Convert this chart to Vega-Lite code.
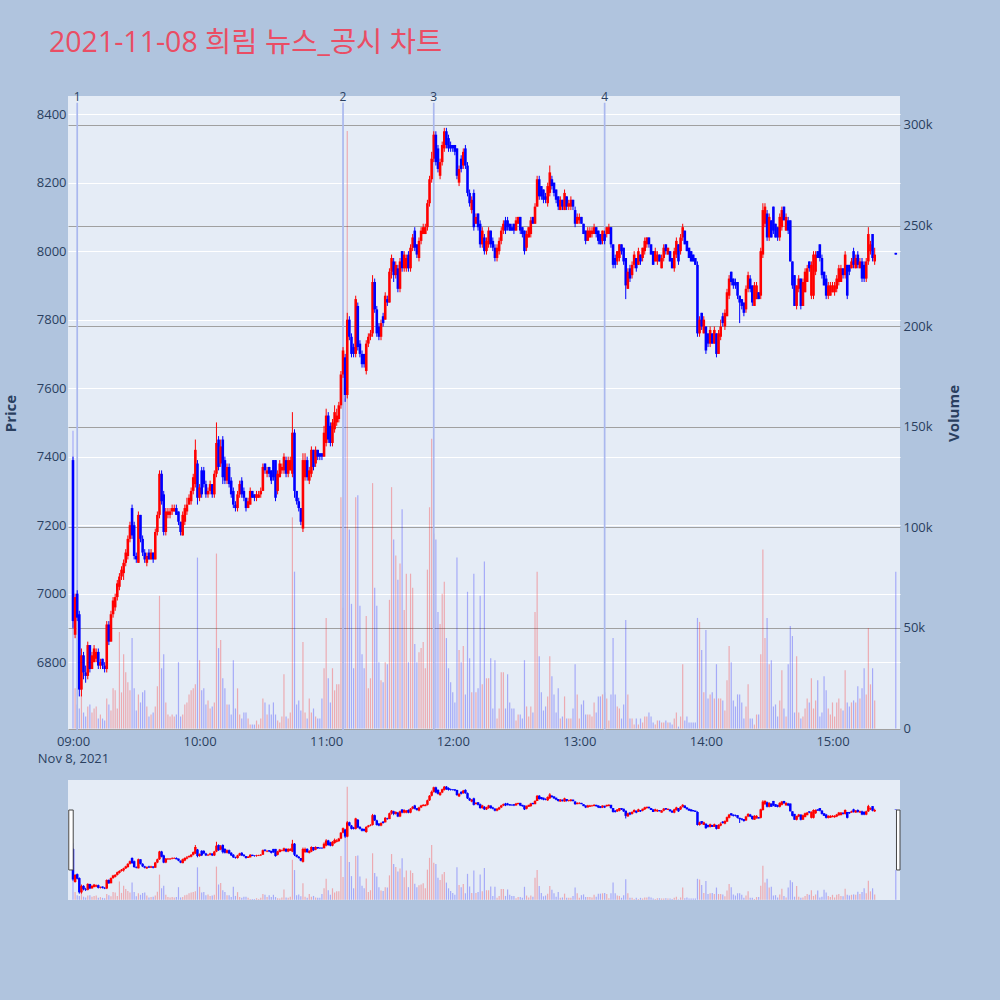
{
"$schema":"https://vega.github.io/schema/vega-lite/v6.json",
"background":"#b0c4de",
"padding":{"left":3,"top":28,"right":40,"bottom":101},
"config":{"view":{"fill":"#e5ecf6","stroke":null},"font":"Open Sans"},
"title":{"text":"2021-11-08 희림 뉴스_공시 차트","anchor":"start","frame":"bounds","color":"#ea4d64","fontSize":28.5,"font":"Open Sans, Noto Sans CJK KR","fontWeight":"normal","dx":46,"offset":34},
"data":{"values":"t,o,h,l,c,v,ev\n0900,7390,7400,6900,6920,148\n0901,6880,7000,6870,6990,20\n0902,7000,7010,6920,6930,12,1\n0903,6940,6950,6700,6720,10\n0904,6720,6840,6700,6820,17\n0905,6820,6830,6750,6770,8\n0906,6770,6790,6740,6760,6\n0907,6760,6860,6750,6850,11\n0908,6850,6850,6770,6780,12\n0909,6780,6830,6780,6820,8\n0910,6800,6850,6800,6840,10\n0911,6810,6840,6800,6830,11\n0912,6830,6840,6780,6790,5\n0913,6790,6810,6780,6800,7\n0914,6810,6810,6780,6790,5\n0915,6790,6800,6770,6780,4\n0916,6780,6920,6770,6910,15\n0917,6910,6920,6850,6860,12\n0918,6860,6950,6860,6940,9\n0919,6940,6990,6930,6980,20\n0920,6960,7000,6950,6990,19\n0921,6990,7040,6980,7030,10\n0922,7020,7060,7010,7050,48\n0923,7050,7080,7040,7070,18\n0924,7060,7100,7040,7090,37\n0925,7090,7130,7080,7120,28\n0926,7110,7170,7100,7160,23\n0927,7160,7210,7150,7200,19\n0928,7250,7260,7160,7170,45\n0929,7200,7210,7100,7110,20\n0930,7110,7120,7090,7100,9\n0931,7090,7240,7090,7230,17\n0932,7230,7230,7150,7160,13\n0933,7160,7170,7110,7120,18\n0934,7120,7130,7090,7100,19\n0935,7090,7120,7080,7110,11\n0936,7120,7130,7100,7100,6\n0937,7100,7130,7100,7120,7\n0938,7120,7120,7090,7100,8\n0939,7100,7190,7100,7180,11\n0940,7180,7240,7170,7230,21\n0941,7230,7360,7220,7350,66\n0942,7350,7360,7260,7270,30\n0943,7290,7300,7170,7180,37\n0944,7180,7250,7170,7240,13\n0945,7230,7250,7220,7240,7\n0946,7230,7250,7220,7240,6\n0947,7240,7260,7230,7250,7\n0948,7240,7260,7240,7250,6\n0949,7250,7260,7230,7230,7\n0950,7240,7240,7200,7210,33\n0951,7210,7210,7170,7180,6\n0952,7170,7240,7170,7230,7\n0953,7210,7260,7200,7250,12\n0954,7240,7280,7230,7260,13\n0955,7260,7290,7260,7280,17\n0956,7270,7310,7260,7300,19\n0957,7300,7350,7290,7340,20\n0958,7320,7450,7310,7420,22\n0959,7380,7390,7260,7280,85\n1000,7280,7320,7270,7310,34\n1001,7360,7370,7280,7290,19\n1002,7360,7370,7310,7320,20\n1003,7320,7330,7280,7290,12\n1004,7290,7310,7280,7300,14\n1005,7300,7330,7290,7320,10\n1006,7320,7320,7280,7290,11\n1007,7290,7360,7280,7350,13\n1008,7350,7500,7340,7440,87\n1009,7450,7460,7360,7370,40\n1010,7380,7450,7370,7430,44\n1011,7450,7460,7320,7340,25\n1012,7390,7400,7320,7330,20\n1013,7330,7380,7320,7370,12\n1014,7370,7380,7310,7320,12\n1015,7330,7340,7280,7290,7\n1016,7300,7310,7250,7260,34\n1017,7260,7270,7240,7250,10\n1018,7250,7300,7240,7290,20\n1019,7290,7330,7280,7320,7\n1020,7330,7340,7280,7290,5\n1021,7300,7310,7270,7280,8\n1022,7280,7280,7240,7250,8\n1023,7250,7280,7250,7270,5\n1024,7260,7310,7260,7300,2\n1025,7300,7300,7280,7280,2\n1026,7290,7290,7270,7280,2\n1027,7280,7300,7270,7290,4\n1028,7280,7300,7280,7290,2\n1029,7290,7310,7280,7300,5\n1030,7300,7380,7300,7370,15\n1031,7380,7380,7350,7360,13\n1032,7350,7370,7340,7360,7\n1033,7370,7370,7340,7350,12\n1034,7360,7360,7320,7330,7\n1035,7390,7390,7330,7340,13\n1036,7390,7390,7270,7280,7\n1037,7300,7360,7290,7350,4\n1038,7340,7390,7340,7380,3\n1039,7360,7380,7350,7370,6\n1040,7360,7410,7350,7400,27\n1041,7390,7400,7340,7350,6\n1042,7350,7400,7340,7390,5\n1043,7360,7400,7360,7390,8\n1044,7350,7530,7340,7470,105\n1045,7470,7480,7280,7300,78\n1046,7300,7300,7260,7270,12\n1047,7270,7280,7240,7250,14\n1048,7250,7250,7200,7210,9\n1049,7190,7410,7180,7390,43\n1050,7340,7410,7330,7390,8\n1051,7390,7400,7330,7340,5\n1052,7330,7370,7320,7360,15\n1053,7350,7430,7340,7420,8\n1054,7420,7420,7360,7370,10\n1055,7380,7430,7370,7420,6\n1056,7420,7420,7390,7400,5\n1057,7410,7410,7390,7400,5\n1058,7410,7410,7390,7400,15\n1059,7400,7490,7400,7470,30\n1100,7440,7540,7430,7520,55\n1101,7520,7530,7440,7450,25\n1102,7490,7500,7430,7440,13\n1103,7440,7510,7430,7500,30\n1104,7480,7550,7470,7530,19\n1105,7500,7540,7490,7520,22\n1106,7510,7560,7500,7550,22\n1107,7550,7650,7540,7640,115\n1108,7640,7720,7630,7710,60,2\n1109,7690,7700,7560,7580,164\n1110,7580,7820,7570,7800,297\n1111,7800,7810,7740,7750,99\n1112,7750,7760,7690,7700,62\n1113,7720,7730,7690,7700,30\n1114,7700,7870,7690,7860,115\n1115,7840,7850,7710,7720,116\n1116,7730,7740,7690,7700,61\n1117,7700,7710,7660,7670,37\n1118,7700,7700,7660,7670,30\n1119,7650,7740,7640,7730,56\n1120,7730,7760,7720,7750,20\n1121,7750,7770,7740,7760,25\n1122,7760,7930,7750,7910,122\n1123,7910,7920,7820,7830,70\n1124,7830,7840,7750,7760,61\n1125,7780,7790,7740,7750,33\n1126,7750,7800,7740,7790,24\n1127,7810,7820,7780,7790,23\n1128,7800,7880,7800,7870,33\n1129,7860,7870,7840,7850,32\n1130,7850,7950,7850,7940,64\n1131,7940,7990,7920,7980,120\n1132,7970,7980,7910,7930,94\n1133,7930,7970,7920,7960,86\n1134,7950,7960,7880,7890,74\n1135,7890,7980,7880,7970,82\n1136,8000,8000,7940,7950,109\n1137,7950,8000,7940,7990,59\n1138,7950,7990,7940,7980,77\n1139,7990,8000,7940,7950,33\n1140,7950,8020,7940,8010,77\n1141,8010,8050,8000,8040,70\n1142,8060,8070,8000,8010,42\n1143,8020,8020,7980,7990,33\n1144,7980,8040,7970,8030,38\n1145,8030,8070,8020,8060,40\n1146,8050,8080,8050,8070,43\n1147,8050,8080,8050,8070,30\n1148,8070,8150,8060,8140,79\n1149,8140,8220,8130,8210,110\n1150,8210,8290,8200,8270,144\n1151,8270,8350,8260,8340,97,3\n1152,8340,8350,8250,8260,94\n1153,8300,8310,8230,8240,58\n1154,8220,8270,8210,8260,52\n1155,8260,8320,8250,8310,67\n1156,8300,8360,8290,8350,73\n1157,8350,8360,8300,8310,45\n1158,8330,8340,8290,8300,30\n1159,8310,8320,8290,8300,23\n1200,8310,8310,8290,8300,18\n1201,8310,8310,8280,8290,13\n1202,8300,8300,8210,8220,85\n1203,8200,8250,8190,8240,39\n1204,8270,8280,8230,8240,33\n1205,8250,8300,8240,8290,41\n1206,8300,8310,8240,8250,17\n1207,8250,8260,8160,8170,68\n1208,8170,8180,8130,8140,35\n1209,8120,8160,8110,8150,18\n1210,8170,8180,8060,8070,77\n1211,8080,8110,8080,8100,18\n1212,8110,8110,8060,8070,20\n1213,8080,8090,8010,8020,66\n1214,8020,8070,8010,8060,22\n1215,8040,8050,7990,8000,83\n1216,8000,8040,7990,8030,25\n1217,8020,8070,8010,8060,25\n1218,8060,8060,8010,8020,35\n1219,8030,8040,8000,8010,10\n1220,8010,8020,7970,7980,34\n1221,7980,8020,7970,8010,5\n1222,8000,8040,7990,8030,10\n1223,8030,8070,8020,8060,28\n1224,8060,8090,8050,8080,28\n1225,8090,8100,8050,8060,10\n1226,8090,8100,8060,8070,27\n1227,8080,8080,8060,8060,13\n1228,8070,8080,8060,8060,10\n1229,8080,8080,8050,8060,10\n1230,8060,8100,8060,8090,4\n1231,8080,8100,8080,8100,7\n1232,8100,8100,8050,8060,7\n1233,8070,8070,8040,8050,5\n1234,8060,8060,7990,8000,34\n1235,8010,8060,8000,8050,11\n1236,8040,8070,8040,8070,6\n1237,8050,8100,8040,8090,11\n1238,8100,8100,8080,8080,8\n1239,8080,8140,8080,8130,58\n1240,8130,8220,8130,8210,78\n1241,8210,8220,8150,8160,36\n1242,8190,8190,8150,8160,18\n1243,8180,8180,8140,8150,9\n1244,8160,8170,8140,8150,11\n1245,8140,8200,8130,8190,16\n1246,8170,8250,8160,8230,36\n1247,8210,8220,8180,8190,26\n1248,8200,8200,8160,8170,17\n1249,8180,8180,8140,8150,8\n1250,8160,8160,8120,8130,20\n1251,8120,8160,8120,8150,5\n1252,8150,8150,8120,8130,6\n1253,8120,8180,8120,8170,16\n1254,8160,8160,8120,8130,5\n1255,8130,8150,8120,8140,5\n1256,8130,8160,8120,8150,5\n1257,8150,8150,8120,8130,10\n1258,8120,8130,8070,8080,32\n1259,8080,8110,8080,8100,17\n1300,8090,8110,8080,8100,5\n1301,8100,8100,8080,8080,12\n1302,8080,8080,8050,8050,14\n1303,8060,8060,8020,8030,7\n1304,8030,8070,8030,8060,7\n1305,8040,8070,8040,8060,7\n1306,8050,8070,8040,8060,6\n1307,8050,8080,8050,8070,13\n1308,8070,8070,8040,8050,8\n1309,8060,8060,8020,8030,16\n1310,8050,8050,8020,8020,16\n1311,8030,8060,8020,8060,17\n1312,8050,8060,8020,8030,18,4\n1313,8050,8070,8040,8070,15\n1314,8050,8080,8050,8070,4\n1315,8070,8070,8010,8020,17\n1316,8020,8020,7950,7960,45\n1317,7980,7990,7950,7960,17\n1318,7970,8000,7960,8000,11\n1319,7980,8020,7970,8020,10\n1320,8020,8020,7990,8000,5\n1321,8010,8010,7960,7970,12\n1322,7980,7980,7860,7900,54\n1323,7890,7950,7890,7940,17\n1324,7950,7960,7910,7920,5\n1325,7930,7970,7920,7960,5\n1326,7960,8000,7950,7990,2\n1327,7980,7980,7940,7950,5\n1328,7960,8010,7960,8000,2\n1329,7990,7990,7960,7970,5\n1330,7980,8010,7970,8010,3\n1331,8000,8040,7990,8030,6\n1332,8020,8040,8010,8040,6\n1333,8040,8040,8010,8020,8\n1334,8020,8020,7990,7990,6\n1335,8000,8000,7960,7960,3\n1336,7970,8010,7970,8000,2\n1337,7970,8000,7960,7990,4\n1338,7990,7990,7970,7970,4\n1339,7950,7990,7950,7980,3\n1340,7980,8020,7970,8010,3\n1341,8020,8020,7990,8000,4\n1342,7990,8010,7990,8010,3\n1343,8000,8000,7970,7970,3\n1344,7980,7980,7950,7950,2\n1345,7950,8010,7940,8000,5\n1346,7990,8040,7980,8030,8\n1347,8020,8020,7960,7970,1\n1348,8000,8050,7990,8040,6\n1349,8040,8080,8030,8070,32\n1350,8060,8060,8020,8020,4\n1351,8030,8030,8000,8000,6\n1352,8010,8010,7980,7980,3\n1353,8000,8000,7970,7970,3\n1354,7990,7990,7970,7970,3\n1355,7980,7980,7960,7960,3\n1356,7960,7970,7750,7760,55\n1357,7760,7810,7750,7800,53\n1358,7820,7820,7770,7780,39\n1359,7760,7810,7760,7800,18\n1400,7780,7780,7700,7710,49\n1401,7760,7760,7720,7730,15\n1402,7730,7780,7720,7770,17\n1403,7760,7760,7730,7730,18\n1404,7730,7780,7730,7770,15\n1405,7760,7760,7690,7700,32\n1406,7700,7770,7700,7760,15\n1407,7750,7800,7740,7780,15\n1408,7810,7820,7780,7790,14\n1409,7780,7830,7770,7820,9\n1410,7810,7890,7810,7880,24\n1411,7870,7930,7860,7920,41\n1412,7940,7940,7900,7910,33\n1413,7920,7920,7890,7900,14\n1414,7910,7920,7890,7900,11\n1415,7910,7910,7860,7870,17\n1416,7870,7870,7790,7850,17\n1417,7860,7860,7830,7840,13\n1418,7850,7850,7810,7820,5\n1419,7830,7900,7820,7890,11\n1420,7890,7940,7880,7930,22\n1421,7920,7930,7880,7890,5\n1422,7900,7900,7840,7850,5\n1423,7840,7910,7840,7900,2\n1424,7860,7910,7860,7900,7\n1425,7880,7880,7860,7860,7\n1426,7870,8010,7860,8000,37\n1427,7990,8140,7980,8120,89\n1428,8080,8140,8070,8130,45\n1429,8110,8120,8030,8040,55\n1430,8040,8110,8030,8100,32\n1431,8090,8090,8040,8040,34\n1432,8130,8130,8050,8060,11\n1433,8080,8080,8040,8040,12\n1434,8070,8070,8030,8040,6\n1435,8040,8110,8030,8100,14\n1436,8070,8130,8060,8120,29\n1437,8130,8130,8090,8090,10\n1438,8060,8110,8060,8100,6\n1439,8090,8100,8050,8060,32\n1440,8090,8090,7970,7970,51\n1441,7970,7970,7890,7900,46\n1442,7930,7930,7840,7840,8\n1443,7840,7900,7830,7900,36\n1444,7890,7930,7880,7920,8\n1445,7920,7920,7830,7840,5\n1446,7840,7920,7840,7910,6\n1447,7880,7950,7880,7940,10\n1448,7910,7960,7910,7950,15\n1449,7970,7970,7940,7950,13\n1450,7870,7970,7860,7960,25\n1451,7870,8000,7860,7990,10\n1452,7940,8000,7930,7990,14\n1453,8000,8000,7980,7980,24\n1454,8020,8020,7970,7980,6\n1455,7980,7990,7920,7930,8\n1456,7940,7940,7900,7900,26\n1457,7920,7930,7860,7870,19\n1458,7870,7910,7860,7900,10\n1459,7870,7910,7870,7900,7\n1500,7880,7910,7880,7900,13\n1501,7880,7910,7870,7900,6\n1502,7890,7930,7880,7920,13\n1503,7910,7960,7900,7950,15\n1504,7910,7960,7910,7950,10\n1505,7950,7950,7920,7930,9\n1506,7930,8000,7920,7990,29\n1507,7960,7960,7860,7870,13\n1508,7960,7960,7930,7940,11\n1509,7950,7980,7950,7970,13\n1510,8000,8010,7950,7960,14\n1511,7950,7990,7950,7980,13\n1512,7990,8000,7950,7960,21\n1513,7950,7980,7950,7970,15\n1514,7970,7980,7910,7920,20\n1515,7960,7970,7910,7920,30\n1516,7920,7980,7910,7970,17\n1517,7970,8070,7960,8050,50\n1518,8000,8030,7990,8020,22\n1519,8050,8050,7970,7980,30\n1520,7970,8010,7960,7990,14\n1530,7995,7995,7990,7990,78","format":{"type":"csv","parse":{"t":"date:'%H%M'","o":"number","h":"number","l":"number","c":"number","v":"number","ev":"string"}}},
"spacing":15,
"vconcat":[
{
"width":832,"height":634,
"encoding":{"x":{"field":"t","type":"temporal","scale":{"domain":[{"year":1900,"month":1,"date":1,"hours":8,"minutes":57,"seconds":38},{"year":1900,"month":1,"date":1,"hours":15,"minutes":32}]},
"axis":{"values":[{"year":1900,"month":1,"date":1,"hours":9},{"year":1900,"month":1,"date":1,"hours":10},{"year":1900,"month":1,"date":1,"hours":11},{"year":1900,"month":1,"date":1,"hours":12},{"year":1900,"month":1,"date":1,"hours":13},{"year":1900,"month":1,"date":1,"hours":14},{"year":1900,"month":1,"date":1,"hours":15}],
"labelExpr":"hours(datum.value) == 9 ? ['09:00', 'Nov 8, 2021'] : timeFormat(datum.value, '%H:%M')","ticks":false,"domain":false,"grid":false,"labelPadding":5,"labelFontSize":13,"labelColor":"#2a3f5f","labelLineHeight":17,"labelBaseline":"top","title":null}}},
"layer":[
{"mark":{"type":"rule","strokeWidth":1.2,"opacity":0.28},
 "encoding":{"y":{"field":"v","type":"quantitative","scale":{"domain":[-0.7,314.4],"nice":false,"zero":false},
  "axis":{"orient":"right","values":[0,50,100,150,200,250,300],"labelExpr":"datum.value == 0 ? '0' : datum.value + 'k'","ticks":false,"domain":false,"grid":true,"gridColor":"#a0a0a0","gridWidth":1,"labelPadding":3,"labelFontSize":13,"labelColor":"#2a3f5f","title":"Volume","titleFontSize":15,"titleFontWeight":"bold","titleColor":"#2a3f5f","titleAngle":270,"titleX":53,"titleY":317,"titleAlign":"center","titleBaseline":"middle"}},
 "y2":{"datum":0},
 "color":{"condition":{"test":"datum.c >= datum.o","value":"#ff0000"},"value":"#0000ff"}}},
{"layer":[
 {"transform":[{"filter":"isValid(datum.ev)"}],
  "mark":{"type":"rule","color":"#aab8ee","strokeWidth":1.7},"encoding":{"x":{"field":"t","type":"temporal"},"y":{"datum":8433,"type":"quantitative","title":"Price"},"y2":{"datum":6602}}},
 {"mark":{"type":"rule","strokeWidth":1},
  "encoding":{"y":{"field":"l","type":"quantitative","scale":{"domain":[6602,8453],"nice":false,"zero":false},
   "axis":{"values":[6800,7000,7200,7400,7600,7800,8000,8200,8400],"format":"d","ticks":false,"domain":false,"grid":true,"gridColor":"#ffffff","gridWidth":1,"labelPadding":2,"labelFontSize":13,"labelColor":"#2a3f5f","title":"Price","titleFontSize":15,"titleFontWeight":"bold","titleColor":"#2a3f5f","titleAngle":270,"titleX":-58,"titleY":317,"titleAlign":"center","titleBaseline":"middle"}},
   "y2":{"field":"h"},
   "color":{"condition":{"test":"datum.c >= datum.o","value":"#ff0000"},"value":"#0000ff"}}},
 {"mark":{"type":"rule","strokeWidth":2.6},
  "encoding":{"y":{"field":"o","type":"quantitative","title":"Price"},
   "y2":{"field":"c"},
   "color":{"condition":{"test":"datum.c >= datum.o","value":"#ff0000"},"value":"#0000ff"}}},
 {"transform":[{"filter":"isValid(datum.ev)"}],
  "mark":{"type":"text","fontSize":12,"color":"#2a3f5f","baseline":"middle","align":"center"},
  "encoding":{"x":{"field":"t","type":"temporal"},"y":{"datum":8450,"type":"quantitative","title":"Price"},"text":{"field":"ev"}}}
]}
],
"resolve":{"scale":{"y":"independent"}}
},
{
"width":832,"height":120,
"encoding":{"x":{"field":"t","type":"temporal","scale":{"domain":[{"year":1900,"month":1,"date":1,"hours":8,"minutes":57,"seconds":38},{"year":1900,"month":1,"date":1,"hours":15,"minutes":32}]},"axis":null}},
"layer":[
{"mark":{"type":"rule","strokeWidth":1.2,"opacity":0.28},
 "encoding":{"y":{"field":"v","type":"quantitative","scale":{"domain":[-0.7,314.4],"nice":false,"zero":false},"axis":null},
 "y2":{"datum":0},
 "color":{"condition":{"test":"datum.c >= datum.o","value":"#ff0000"},"value":"#0000ff"}}},
{"layer":[
 {"mark":{"type":"rule","strokeWidth":1},
  "encoding":{"y":{"field":"l","type":"quantitative","scale":{"domain":[6602,8453],"nice":false,"zero":false},"axis":null},"y2":{"field":"h"},
   "color":{"condition":{"test":"datum.c >= datum.o","value":"#ff0000"},"value":"#0000ff"}}},
 {"mark":{"type":"rule","strokeWidth":2.5},
  "encoding":{"y":{"field":"o","type":"quantitative","scale":{"domain":[6602,8453],"nice":false,"zero":false},"axis":null},
   "y2":{"field":"c"},
   "color":{"condition":{"test":"datum.c >= datum.o","value":"#ff0000"},"value":"#0000ff"}}},
 {"transform":[{"filter":"datum.ev === '1'"}],
  "mark":{"type":"rect","fill":"#ffffff","stroke":"#444444","strokeWidth":1},
  "encoding":{"x":{"datum":{"year":1900,"month":1,"date":1,"hours":8,"minutes":58},"type":"temporal"},"x2":{"datum":{"year":1900,"month":1,"date":1,"hours":9,"minutes":0,"seconds":6}},"y":{"datum":7990,"type":"quantitative","scale":{"domain":[6602,8453],"nice":false,"zero":false},"axis":null},"y2":{"datum":7065}}},
 {"transform":[{"filter":"datum.ev === '1'"}],
  "mark":{"type":"rect","fill":"#ffffff","stroke":"#444444","strokeWidth":1},
  "encoding":{"x":{"datum":{"year":1900,"month":1,"date":1,"hours":15,"minutes":30,"seconds":20},"type":"temporal"},"x2":{"datum":{"year":1900,"month":1,"date":1,"hours":15,"minutes":32}},"y":{"datum":7990,"type":"quantitative","scale":{"domain":[6602,8453],"nice":false,"zero":false},"axis":null},"y2":{"datum":7065}}}
]}
],
"resolve":{"scale":{"y":"independent"}}
}
]
}
